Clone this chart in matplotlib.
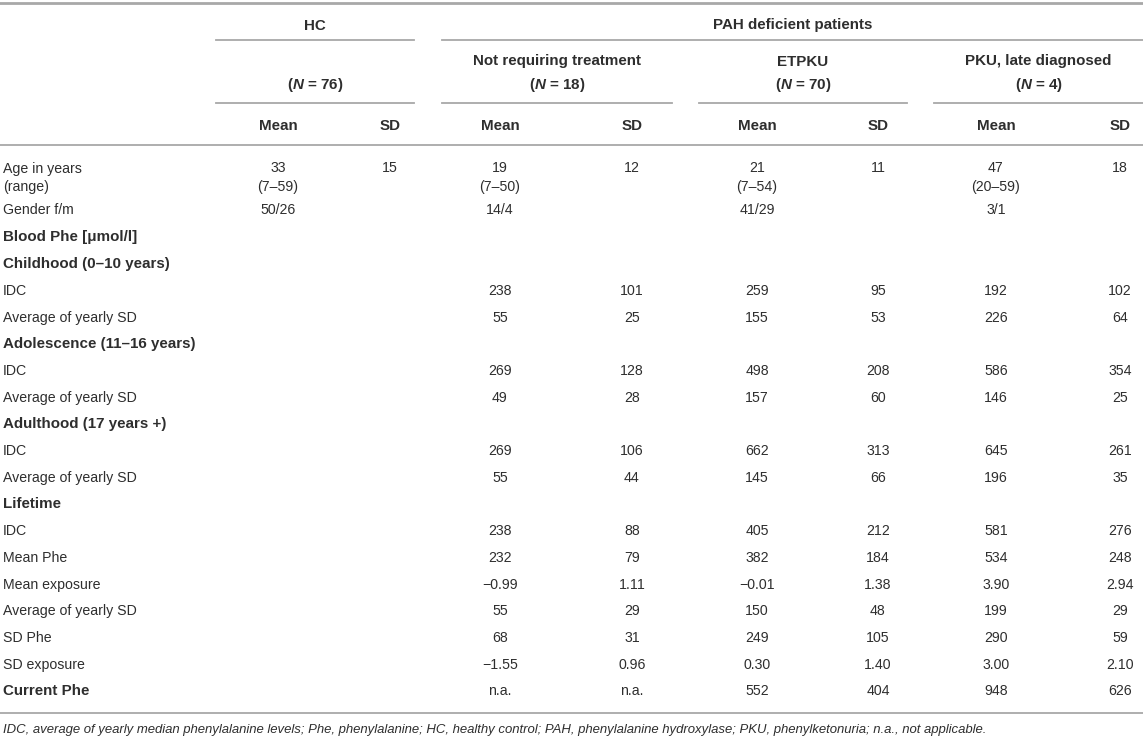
import matplotlib
matplotlib.use("Agg")
import matplotlib.pyplot as plt
from matplotlib.lines import Line2D

plt.rcParams['font.family'] = ['Liberation Sans', 'DejaVu Sans']
plt.rcParams['mathtext.fontset'] = 'custom'
plt.rcParams['mathtext.it'] = 'Liberation Sans:italic:bold'
plt.rcParams['mathtext.rm'] = 'Liberation Sans:bold'

W, H = 1143, 738
TXT = '#2e2e2e'
RULE = '#a8a8a8'
FS = 10.2      # body text
FS_B = 10.9    # bold headings

# --- table contents ---
groups = ["HC", "PAH deficient patients"]
subgroups = ["", "Not requiring treatment", "ETPKU", "PKU, late diagnosed"]
group_n = [76, 18, 70, 4]
col_heads = ["Mean", "SD"] * 4

row_labels = ["Age in years", "(range)", "Gender f/m", "Blood Phe [\u03bcmol/l]",
              "Childhood (0\u201310 years)", "IDC", "Average of yearly SD",
              "Adolescence (11\u201316 years)", "IDC", "Average of yearly SD",
              "Adulthood (17 years +)", "IDC", "Average of yearly SD",
              "Lifetime", "IDC", "Mean Phe", "Mean exposure",
              "Average of yearly SD", "SD Phe", "SD exposure", "Current Phe"]
bold_rows = ["Blood Phe [\u03bcmol/l]", "Childhood (0\u201310 years)",
             "Adolescence (11\u201316 years)", "Adulthood (17 years +)",
             "Lifetime", "Current Phe"]

hc_mean = ["33", "(7\u201359)", "50/26"] + [""] * 18
hc_sd = ["15"] + [""] * 20
nr_mean = ["19", "(7\u201350)", "14/4", "", "", "238", "55", "", "269", "49", "",
           "269", "55", "", "238", "232", "\u22120.99", "55", "68", "\u22121.55", "n.a."]
nr_sd = ["12", "", "", "", "", "101", "25", "", "128", "28", "",
         "106", "44", "", "88", "79", "1.11", "29", "31", "0.96", "n.a."]
et_mean = ["21", "(7\u201354)", "41/29", "", "", "259", "155", "", "498", "157", "",
           "662", "145", "", "405", "382", "\u22120.01", "150", "249", "0.30", "552"]
et_sd = ["11", "", "", "", "", "95", "53", "", "208", "60", "",
         "313", "66", "", "212", "184", "1.38", "48", "105", "1.40", "404"]
pku_mean = ["47", "(20\u201359)", "3/1", "", "", "192", "226", "", "586", "146", "",
            "645", "196", "", "581", "534", "3.90", "199", "290", "3.00", "948"]
pku_sd = ["18", "", "", "", "", "102", "64", "", "354", "25", "",
          "261", "35", "", "276", "248", "2.94", "29", "59", "2.10", "626"]

footnote = ("IDC, average of yearly median phenylalanine levels; Phe, phenylalanine; "
            "HC, healthy control; PAH, phenylalanine hydroxylase; PKU, phenylketonuria; "
            "n.a., not applicable.")

columns = [hc_mean, hc_sd, nr_mean, nr_sd, et_mean, et_sd, pku_mean, pku_sd]

# --- layout (pixel coords, y from top) ---
col_x = [278, 390, 500, 632, 757, 878, 996, 1120]
spans = [(216, 414), (442, 672), (699, 907), (934, 1143)]
row_y = [167, 185, 209] + [236 + 26.7 * k for k in range(18)]

fig = plt.figure(figsize=(W / 100, H / 100), dpi=100)
fig.patch.set_facecolor('white')


def px(x, y):
    return x / W, 1 - y / H


def hline(x0, x1, y, lw=1.3):
    fig.add_artist(Line2D([x0 / W, x1 / W], [1 - y / H, 1 - y / H],
                          color=RULE, lw=lw, transform=fig.transFigure))


def put(x, y, s, ha='center', **kw):
    kw.setdefault('fontsize', FS)
    kw.setdefault('color', TXT)
    return fig.text(*px(x, y), s, ha=ha, va='center_baseline', **kw)


# rules
hline(0, W, 3, lw=2)
hline(spans[0][0], spans[0][1], 40)
hline(spans[1][0], W, 40)
for a, b in spans:
    hline(a, b, 103)
hline(0, W, 145)
hline(0, W, 713)

# headers
put(sum(spans[0]) / 2, 24, groups[0], weight='bold', fontsize=FS_B)
put((spans[1][0] + W) / 2, 24, groups[1], weight='bold', fontsize=FS_B)
for (a, b), name, n in zip(spans, subgroups, group_n):
    if name:
        put((a + b) / 2, 60, name, weight='bold', fontsize=FS_B)
    put((a + b) / 2, 83, "($N$ = %d)" % n, weight='bold', fontsize=FS_B)
for x, h in zip(col_x, col_heads):
    put(x, 124, h, weight='bold', fontsize=FS_B)

# body
for i, lab in enumerate(row_labels):
    y = row_y[i]
    if lab in bold_rows:
        put(3, y, lab, ha='left', weight='bold', fontsize=FS_B)
    else:
        put(3, y, lab, ha='left')
    for x, col in zip(col_x, columns):
        if col[i]:
            put(x, y, col[i])

# footnote, sized so it runs out to about x=1000 like the original
fn = put(3, 729, footnote, ha='left', fontsize=9, style='italic')
r = fig.canvas.get_renderer()
w = fn.get_window_extent(r).width
fn.set_fontsize(9 * 995 / w)

fig.savefig("out.png", dpi=100, facecolor='white')
